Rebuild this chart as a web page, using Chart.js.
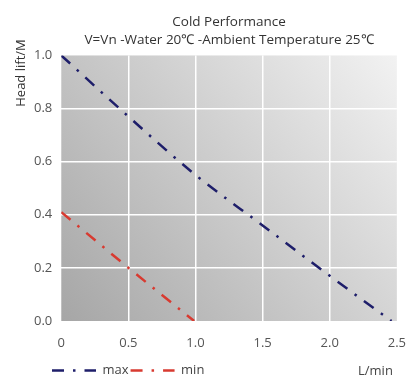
<!DOCTYPE html>
<html>
<head>
<meta charset="utf-8">
<script src="https://cdn.jsdelivr.net/npm/chart.js@4/dist/chart.umd.min.js"></script>
<style>
  body { margin: 0; background: #fff; }
  #wrap { width: 420px; height: 382px; }
</style>
</head>
<body>
<div id="wrap"><canvas id="perfChart"></canvas></div>
<script>
// values
const titleLines = ["Cold Performance", "V=Vn -Water 20℃ -Ambient Temperature 25℃"];
const seriesNames = ["max", "min"];
const maxFlow = [0, 0.5, 1.0, 1.5, 2.0, 2.46];
const maxHead = [1.0, 0.77, 0.55, 0.36, 0.17, 0];
const minFlow = [0, 0.5, 0.99];
const minHead = [0.41, 0.2, 0];
const xRange = [0, 2.5];
const yRange = [0, 1.0];
const yAxisTitle = "Head lift/M";
const xAxisTitle = "L/min";

const toPoints = (xs, ys) => xs.map((x, i) => ({ x: x, y: ys[i] }));
const dashDot = [12, 9, 2.5, 9];
const font = "'Open Sans', sans-serif";

// gradient plot background + the two axis captions
const decorPlugin = {
  id: "decor",
  afterLayout(chart) {
    // legend starts under the y tick labels, not at the canvas edge
    const leg = chart.legend;
    leg.left += 25;
    leg.top += 5;
    leg.bottom += 5;
  },
  beforeDraw(chart) {
    const { ctx, chartArea: a } = chart;
    const g = ctx.createLinearGradient(a.left, a.bottom, a.right, a.top);
    g.addColorStop(0, "#a6a6a6");
    g.addColorStop(1, "#f2f2f2");
    ctx.save();
    ctx.fillStyle = g;
    ctx.fillRect(a.left, a.top, a.right - a.left, a.bottom - a.top);
    ctx.restore();
  },
  afterDraw(chart) {
    const { ctx, chartArea: a } = chart;
    ctx.save();
    ctx.fillStyle = "#333";
    ctx.font = "13px " + font;
    ctx.textBaseline = "middle";
    ctx.translate(21, 73);
    ctx.rotate(-Math.PI / 2);
    ctx.textAlign = "center";
    ctx.fillText(yAxisTitle, 0, 0);
    ctx.restore();

    const leg = chart.legend;
    ctx.save();
    ctx.fillStyle = "#444";
    ctx.font = "13px " + font;
    ctx.textAlign = "right";
    ctx.textBaseline = "middle";
    ctx.fillText(xAxisTitle, a.right - 4, leg.top + leg.height / 2 - 3);
    ctx.restore();
  }
};

new Chart(document.getElementById("perfChart"), {
  type: "line",
  data: {
    datasets: [
      {
        label: seriesNames[0],
        data: toPoints(maxFlow, maxHead),
        borderColor: "#1e1e6a",
        backgroundColor: "#1e1e6a",
        borderWidth: 2.5,
        borderDash: dashDot,
        borderCapStyle: "butt",
        pointRadius: 0,
        cubicInterpolationMode: "monotone"
      },
      {
        label: seriesNames[1],
        data: toPoints(minFlow, minHead),
        borderColor: "#d83a30",
        backgroundColor: "#d83a30",
        borderWidth: 2.5,
        borderDash: dashDot,
        borderCapStyle: "butt",
        pointRadius: 0
      }
    ]
  },
  options: {
    responsive: true,
    maintainAspectRatio: false,
    animation: false,
    layout: { padding: { left: 25, right: 11, top: 0, bottom: 0 } },
    plugins: {
      title: {
        display: true,
        fullSize: false,
        text: titleLines,
        color: "#333",
        font: { family: font, size: 13.5, weight: "normal", lineHeight: 1.35 },
        padding: { top: 13, bottom: 6 }
      },
      legend: {
        position: "bottom",
        align: "start",
        labels: {
          usePointStyle: true,
          pointStyle: "line",
          pointStyleWidth: 44,
          color: "#444",
          font: { family: font, size: 13 },
          padding: 2,
          boxHeight: 12,
          generateLabels: (chart) => {
            const items = Chart.defaults.plugins.legend.labels.generateLabels(chart);
            items.forEach((it) => { it.lineDash = dashDot; it.lineCap = "butt"; });
            return items;
          }
        }
      },
      tooltip: { enabled: false }
    },
    scales: {
      x: {
        type: "linear",
        min: xRange[0],
        max: xRange[1],
        border: { display: false },
        afterFit: (scale) => { scale.height = 36; },
        grid: {
          drawTicks: false,
          lineWidth: 1.5,
          color: (c) => (c.tick && (c.tick.value === xRange[0] || c.tick.value === xRange[1]) ? "rgba(0,0,0,0)" : "#ffffff")
        },
        ticks: {
          stepSize: 0.5,
          padding: 14,
          color: "#555",
          font: { family: font, size: 13 },
          callback: (v) => (v === 0 ? "0" : v.toFixed(1))
        }
      },
      y: {
        min: yRange[0],
        max: yRange[1],
        border: { display: false },
        grid: {
          drawTicks: false,
          lineWidth: 1.5,
          color: (c) => (c.tick && (c.tick.value === yRange[0] || c.tick.value === yRange[1]) ? "rgba(0,0,0,0)" : "#ffffff")
        },
        ticks: {
          stepSize: 0.2,
          padding: 9,
          color: "#555",
          font: { family: font, size: 13 },
          callback: (v) => v.toFixed(1)
        }
      }
    }
  },
  plugins: [decorPlugin]
});
</script>
</body>
</html>
